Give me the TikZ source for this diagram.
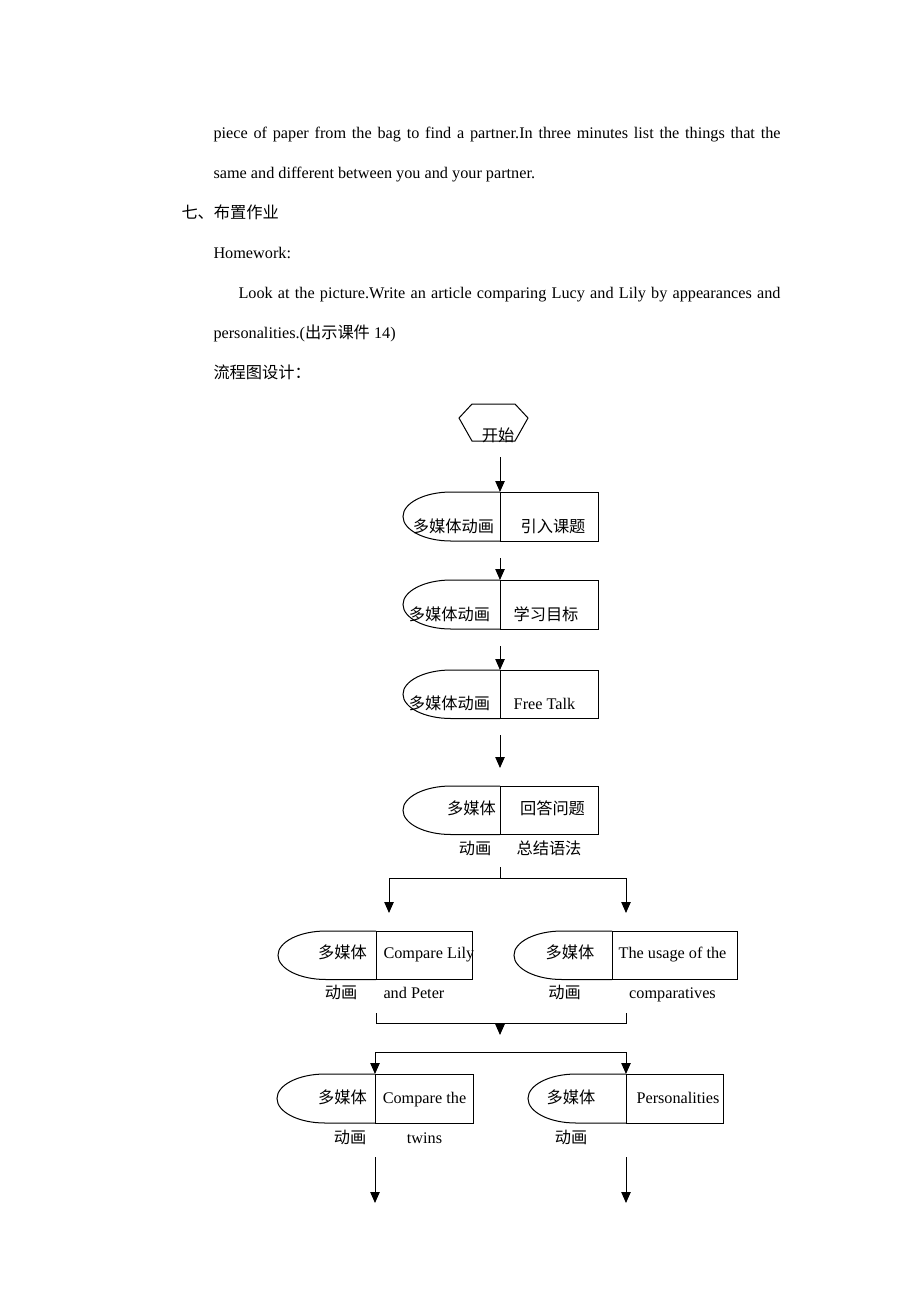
\documentclass[tikz,border=0pt]{standalone}
\usepackage{fontspec}
\setmainfont{Liberation Serif}
\newfontfamily\cjk{Noto Sans CJK SC}
\usetikzlibrary{arrows.meta}

\begin{document}
\begin{tikzpicture}[x=0.6467pt, y=-0.6467pt, line width=0.65pt,
  >={Triangle[length=7pt,width=6pt]},
  txt/.style={inner sep=0pt, anchor=base west, font=\fontsize{10.5}{12}\selectfont},
  lbl/.style={inner sep=0pt, anchor=base, font=\fontsize{10.5}{12}\selectfont}]
\useasboundingbox (0,0) rectangle (920,1302);
% text above the chart
\node[txt] (p1) at (213,138) {\makebox[366.7pt][s]{piece of paper from the bag to find a partner.In three minutes list the things that the}};
\node[txt] (p2) at (213,178) {same and different between you and your partner.};
\node[txt] (h1) at (181,218) {\cjk 七、布置作业};
\node[txt] (h2) at (213,258) {Homework:};
\node[txt] (p3) at (238,298) {\makebox[350.5pt][s]{Look at the picture.Write an article comparing Lucy and Lily by appearances and}};
\node[txt] (p4) at (213,338) {personalities.({\cjk 出示课件} 14)};
\node[txt] (h3) at (213,378) {\cjk 流程图设计：};
% start
\draw (459,418) -- (472,404) -- (515,404) -- (528,418) -- (515,441) -- (472,441) -- cycle;
\node[lbl] (start) at (498,441) {\cjk 开始};
% box 1
\draw (500,492) -- (451,492) arc[start angle=270, end angle=90, x radius=48, y radius=24.5] -- (500,541);
\draw (500,492) rectangle (598,541);
\coordinate (b1) at (500,492);
\node[lbl] (b1l) at (453.5,532) {\cjk 多媒体动画};
\node[lbl] (b1r) at (553,532) {\cjk 引入课题};
% box 2
\draw (500,580) -- (451,580) arc[start angle=270, end angle=90, x radius=48, y radius=24.5] -- (500,629);
\draw (500,580) rectangle (598,629);
\coordinate (b2) at (500,580);
\node[lbl] (b2l) at (449.5,620) {\cjk 多媒体动画};
\node[lbl] (b2r) at (546,620) {\cjk 学习目标};
% box 3
\draw (500,670) -- (451,670) arc[start angle=270, end angle=90, x radius=48, y radius=24.25] -- (500,718.5);
\draw (500,670) rectangle (598,718.5);
\coordinate (b3) at (500,670);
\node[lbl] (b3l) at (449.5,709) {\cjk 多媒体动画};
\node[lbl] (b3r) at (544.5,709) {Free Talk};
% box 4
\draw (500,786) -- (451,786) arc[start angle=270, end angle=90, x radius=48, y radius=24.25] -- (500,834.5);
\draw (500,786) rectangle (598,834.5);
\node[lbl] (b4l) at (471.5,814) {\cjk 多媒体};
\node[lbl] (b4r) at (552.5,814) {\cjk 回答问题};
\node[lbl] (b4l2) at (475,854) {\cjk 动画};
\node[lbl] (b4r2) at (549,854) {\cjk 总结语法};
% box 5, left
\draw (376,931) -- (326,931) arc[start angle=270, end angle=90, x radius=48, y radius=24.25] -- (376,979.5);
\draw (376,931) rectangle (472,979.5);
\node[lbl] (b5al) at (342.5,958) {\cjk 多媒体};
\node[txt] (b5ar) at (383,958) {Compare Lily};
\node[lbl] (b5al2) at (341,998) {\cjk 动画};
\node[txt] (b5ar2) at (383,998) {and Peter};
% box 5, right
\draw (612,931) -- (562,931) arc[start angle=270, end angle=90, x radius=48, y radius=24.25] -- (612,979.5);
\draw (612,931) rectangle (737,979.5);
\node[lbl] (b5bl) at (570,958) {\cjk 多媒体};
\node[lbl] (b5br) at (672.5,958) {The usage of the};
\node[lbl] (b5bl2) at (564.5,998) {\cjk 动画};
\node[lbl] (b5br2) at (672.5,998) {comparatives};
% box 6, left
\draw (375,1074) -- (325,1074) arc[start angle=270, end angle=90, x radius=48, y radius=24.5] -- (375,1123);
\draw (375,1074) rectangle (473,1123);
\coordinate (b6a) at (375,1074);
\node[lbl] (b6al) at (342.5,1103) {\cjk 多媒体};
\node[lbl] (b6ar) at (424.5,1103) {Compare the};
\node[lbl] (b6al2) at (350,1143) {\cjk 动画};
\node[lbl] (b6ar2) at (424.5,1143) {twins};
% box 6, right
\draw (626,1074) -- (576,1074) arc[start angle=270, end angle=90, x radius=48, y radius=24.5] -- (626,1123);
\draw (626,1074) rectangle (723,1123);
\coordinate (b6b) at (626,1074);
\node[lbl] (b6bl) at (571,1103) {\cjk 多媒体};
\node[lbl] (b6br) at (678,1103) {Personalities};
\node[lbl] (b6bl2) at (571,1143) {\cjk 动画};
% arrows
\coordinate (a1) at (500,457);
\coordinate (a2) at (500,558);
\coordinate (a3) at (500,646);
\coordinate (a4) at (500,735);
\coordinate (a4e) at (500,768);
\draw[->] (a1) -- (b1);
\draw[->] (a2) -- (b2);
\draw[->] (a3) -- (b3);
\draw[->] (a4) -- (a4e);
\coordinate (s1) at (500,867);
\coordinate (t5a) at (389,913);
\coordinate (t5b) at (626,913);
\draw[->] (s1) -- ++(0,11) -| (t5a);
\draw[->] (s1) -- ++(0,11) -| (t5b);
\coordinate (m5a) at (376,1013);
\coordinate (m5b) at (626,1013);
\draw (m5a) -- ++(0,10) -| (m5b);
\coordinate (m) at (500,1023);
\coordinate (me) at (500,1035);
\draw[->] (m) -- (me);
\coordinate (s2) at (500,1052);
\draw[->] (s2) -| (b6a);
\draw[->] (s2) -| (b6b);
\coordinate (e6a) at (375,1157);
\coordinate (e6ae) at (375,1203);
\coordinate (e6b) at (626,1157);
\coordinate (e6be) at (626,1203);
\draw[->] (e6a) -- (e6ae);
\draw[->] (e6b) -- (e6be);
\end{tikzpicture}
\end{document}
